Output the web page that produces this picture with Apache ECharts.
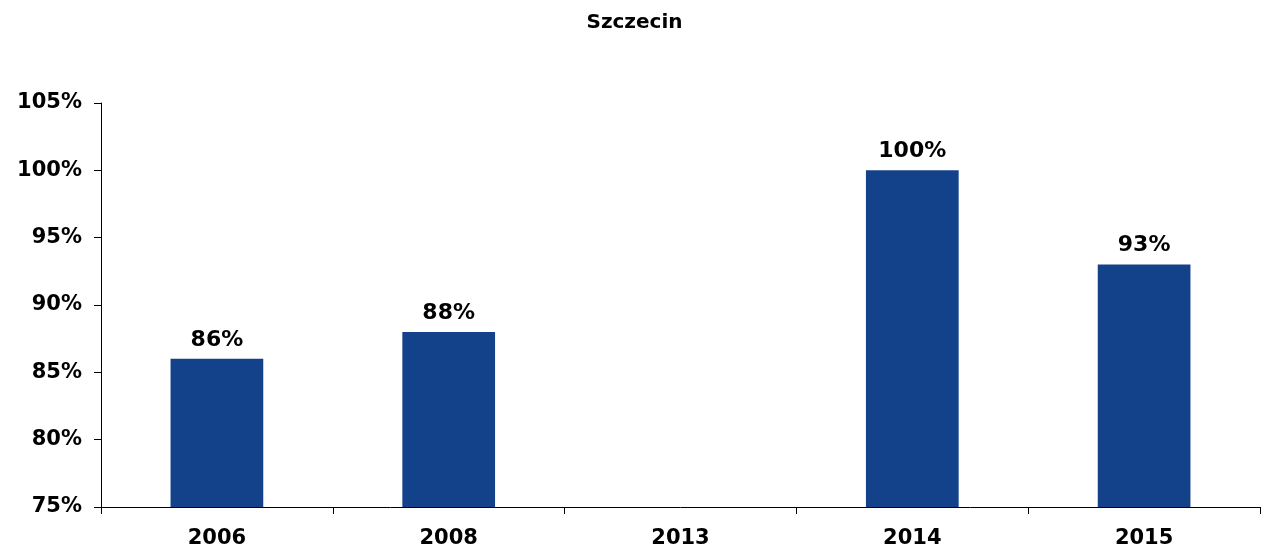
<!DOCTYPE html>
<html>
<head>
<meta charset="utf-8">
<script src="https://cdn.jsdelivr.net/npm/echarts@6/dist/echarts.min.js"></script>
<style>
  html, body { margin: 0; padding: 0; background: #fff; }
  #chart { width: 1269px; height: 551px; }
</style>
</head>
<body>
<div id="chart"></div>
<script>
// dane wykresu
const years = ['2006', '2008', '2013', '2014', '2015'];
const values = [86, 88, null, 100, 93];

const chart = echarts.init(document.getElementById('chart'));
const font = 'DejaVu Sans';

chart.setOption({
    animation: false,
    title: {
        text: 'Szczecin',
        left: 'center',
        top: 8,
        textStyle: { fontFamily: font, fontSize: 20, fontWeight: 'bold', color: '#000' }
    },
    grid: { left: 101, right: 9, top: 103, bottom: 44 },
    xAxis: {
        type: 'category',
        data: years,
        axisLine: { lineStyle: { color: '#000', width: 1 } },
        axisTick: { show: true, alignWithLabel: false, length: 7, lineStyle: { color: '#000' } },
        axisLabel: { fontFamily: font, fontSize: 21, fontWeight: 'bold', color: '#000', margin: 21 }
    },
    yAxis: {
        type: 'value',
        min: 75,
        max: 105,
        interval: 5,
        axisLine: { show: true, lineStyle: { color: '#000', width: 1 } },
        axisTick: { show: true, length: 7, lineStyle: { color: '#000' } },
        splitLine: { show: false },
        axisLabel: {
            fontFamily: font, fontSize: 21, fontWeight: 'bold', color: '#000', margin: 19,
            formatter: '{value}%'
        }
    },
    series: [{
        type: 'bar',
        data: values,
        barWidth: '40%',
        itemStyle: { color: '#14428A' },
        label: {
            show: true,
            position: 'top',
            distance: 8,
            formatter: p => p.value + '%',
            fontFamily: font, fontSize: 22, fontWeight: 'bold', color: '#000'
        }
    }]
});
</script>
</body>
</html>
